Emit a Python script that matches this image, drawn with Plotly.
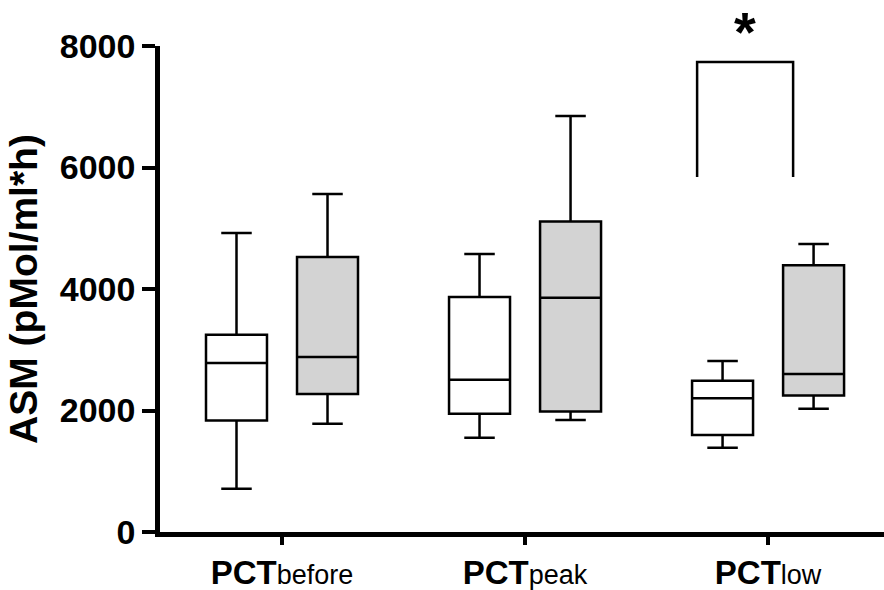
import plotly.graph_objects as go

categories = ["PCTbefore", "PCTpeak", "PCTlow"]
tick_labels = [
    "<b>PCT</b><span style='font-size:27px'>before</span>",
    "<b>PCT</b><span style='font-size:27px'>peak</span>",
    "<b>PCT</b><span style='font-size:27px'>low</span>",
]
positions = [0, 1, 2]

# white boxes
white_low = [710, 1550, 1385]
white_q1 = [1835, 1945, 1597]
white_median = [2780, 2505, 2200]
white_q3 = [3245, 3870, 2488]
white_high = [4922, 4575, 2815]

# gray boxes
gray_low = [1780, 1845, 2030]
gray_q1 = [2272, 1985, 2245]
gray_median = [2881, 3855, 2601]
gray_q3 = [4527, 5110, 4392]
gray_high = [5565, 6848, 4741]

y_ticks = [0, 2000, 4000, 6000, 8000]

# significance bracket over PCTlow
bracket_left = 1.708
bracket_right = 2.103
bracket_top = 7737
bracket_bottom = 5844
star_paper_y = 1.03

FONT = "Liberation Sans, Arial, sans-serif"

fig = go.Figure()
for name, lo, q1, med, q3, hi, fill in [
    ("control", white_low, white_q1, white_median, white_q3, white_high, "white"),
    ("case", gray_low, gray_q1, gray_median, gray_q3, gray_high, "#d3d3d3"),
]:
    fig.add_trace(go.Box(
        x=positions, lowerfence=lo, q1=q1, median=med, q3=q3, upperfence=hi,
        name=name, offsetgroup=name, fillcolor=fill,
        line=dict(color="black", width=2.5), whiskerwidth=0.5,
        boxpoints=False, showlegend=False, hoverinfo="skip",
    ))

fig.add_shape(type="path", xref="x", yref="y",
              path=f"M {bracket_left},{bracket_bottom} L {bracket_left},{bracket_top} L {bracket_right},{bracket_top} L {bracket_right},{bracket_bottom}",
              line=dict(color="black", width=2.5))
fig.add_annotation(x=(bracket_left + bracket_right) / 2, y=star_paper_y, xref="x", yref="paper",
                   text="<b>*</b>", showarrow=False, yanchor="middle",
                   font=dict(family=FONT, size=56, color="black"))

fig.update_layout(
    width=884, height=590,
    margin=dict(l=160, r=0, t=46, b=58),
    paper_bgcolor="white", plot_bgcolor="white",
    boxmode="group", boxgap=0.251, boxgroupgap=0.33,
    font=dict(family=FONT, color="black"),
)
fig.update_xaxes(
    range=[-0.502, 2.477], tickvals=positions, ticktext=tick_labels,
    showline=True, linecolor="black", linewidth=4.5,
    ticks="outside", ticklen=8, tickwidth=4, tickcolor="black",
    tickfont=dict(family=FONT, size=33, color="black"),
    showgrid=False, zeroline=False, fixedrange=True, automargin=False,
)
fig.update_yaxes(
    range=[0, 8000], tickvals=y_ticks, ticktext=[f"<b>{v}</b>" for v in y_ticks],
    showline=True, linecolor="black", linewidth=4.5,
    ticks="outside", ticklen=13, tickwidth=4, tickcolor="black",
    tickfont=dict(family=FONT, size=34, color="black"),
    title=dict(text="<b>ASM (pMol/ml*h)</b>", font=dict(family=FONT, size=39, color="black"), standoff=12),
    showgrid=False, zeroline=False, fixedrange=True, automargin=False,
)

fig.write_html("out.html")
